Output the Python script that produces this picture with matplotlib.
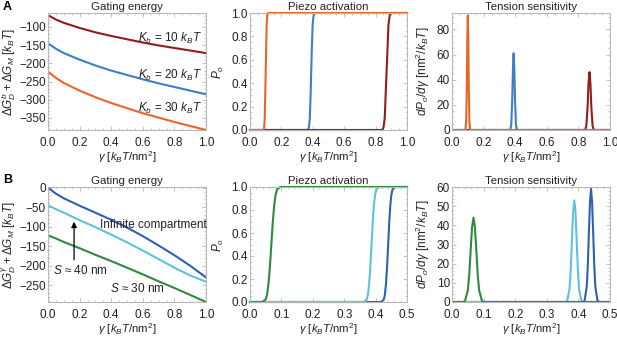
import numpy as np
import matplotlib
matplotlib.use("Agg")
import matplotlib.pyplot as plt
from matplotlib.ticker import MultipleLocator, FormatStrFormatter

plt.rcParams['font.family'] = ['Liberation Sans', 'DejaVu Sans']
plt.rcParams['mathtext.fontset'] = 'custom'
plt.rcParams['mathtext.rm'] = 'Liberation Sans'
plt.rcParams['mathtext.it'] = 'Liberation Sans:italic'
plt.rcParams['mathtext.bf'] = 'Liberation Sans:bold'

# ---------- datos ----------
# Panel A: energía de gating vs tensión
gam_a = [0, 0.05, 0.1, 0.2, 0.3, 0.4, 0.5, 0.6, 0.7, 0.8, 0.9, 1.0]
energy_k10 = [-68, -80, -89, -103, -115, -125, -134, -143, -151, -158, -165, -172]
energy_k20 = [-145, -160, -172, -190, -206, -220, -232, -244, -255, -265, -275, -285]
energy_k30 = [-223, -240, -254, -275, -293, -309, -323, -337, -349, -361, -372, -383]

# Panel A: activación (Po) y sensibilidad (dPo/dgamma)
gam_k30 = [0, 0.085, 0.090, 0.094, 0.097, 0.100, 0.103, 0.106, 0.110, 0.115, 1.0]
po_k30 = [0, 0, 0.02, 0.1, 0.3, 0.5, 0.7, 0.9, 0.98, 1, 1]
dpo_k30 = [0, 0, 7, 37, 73, 91, 73, 37, 7, 0, 0]

gam_k20 = [0, 0.368, 0.375, 0.381, 0.386, 0.390, 0.394, 0.399, 0.405, 0.412, 1.0]
po_k20 = [0, 0, 0.02, 0.1, 0.3, 0.5, 0.7, 0.9, 0.98, 1, 1]
dpo_k20 = [0, 0, 4, 23, 50, 61, 50, 23, 4, 0, 0]

gam_k10 = [0, 0.842, 0.850, 0.858, 0.864, 0.870, 0.876, 0.882, 0.890, 0.898, 1.0]
po_k10 = [0, 0, 0.02, 0.1, 0.3, 0.5, 0.7, 0.9, 0.98, 1, 1]
dpo_k10 = [0, 0, 3, 18, 37, 46, 37, 18, 3, 0, 0]

# Panel B: energía de gating vs tensión
gam_b = [0, 0.05, 0.1, 0.2, 0.3, 0.4, 0.5, 0.6, 0.7, 0.8, 0.9, 1.0]
energy_inf = [0, -15, -27, -46, -64, -82, -102, -124, -148, -173, -200, -230]
energy_s40 = [-45, -55, -64, -83, -101, -120, -140, -161, -183, -205, -225, -241]
energy_s30 = [-122, -130, -139, -155, -172, -188, -205, -222, -240, -257, -275, -293]

# Panel B: activación y sensibilidad
gam_s30 = [0, 0.035, 0.041, 0.050, 0.0545, 0.059, 0.0635, 0.068, 0.0725, 0.077, 0.0815, 0.086, 0.095, 0.101, 0.5]
po_s30 = [0, 0, 0.003, 0.023, 0.067, 0.16, 0.31, 0.5, 0.69, 0.84, 0.93, 0.977, 0.998, 1, 1]
dpo_s30 = [0, 0, 0.5, 6, 14, 27, 39, 44, 39, 27, 14, 6, 0.5, 0, 0]

gam_s40 = [0, 0.360, 0.3645, 0.372, 0.3758, 0.3795, 0.3833, 0.387, 0.3908, 0.3945, 0.3983, 0.402, 0.4095, 0.415, 0.5]
po_s40 = [0, 0, 0.003, 0.023, 0.067, 0.16, 0.31, 0.5, 0.69, 0.84, 0.93, 0.977, 0.998, 1, 1]
dpo_s40 = [0, 0, 0.6, 7, 17, 32, 47, 53, 47, 32, 17, 7, 0.6, 0, 0]

gam_inf = [0, 0.415, 0.4196, 0.4264, 0.4298, 0.4332, 0.4366, 0.440, 0.4434, 0.4468, 0.4502, 0.4536, 0.4604, 0.466, 0.5]
po_inf = [0, 0, 0.003, 0.023, 0.067, 0.16, 0.31, 0.5, 0.69, 0.84, 0.93, 0.977, 0.998, 1, 1]
dpo_inf = [0, 0, 0.7, 8, 19, 36, 52, 59, 52, 36, 19, 8, 0.7, 0, 0]

# Colores
c_red = '#951c1e'
c_blue = '#3d7fc6'
c_orange = '#ea6428'
c_dblue = '#3060ae'
c_lblue = '#5ec3d8'
c_green = '#2f8a3f'

LW = 1.5
frame_col = '#b8b8b8'
txt_col = '#222222'
FS = 8.5

fig = plt.figure(figsize=(6.17, 3.38), dpi=100)
W, H = 617, 338


def add_ax(left, top, right, bottom):
    return fig.add_axes([left / W, 1 - bottom / H, (right - left) / W, (bottom - top) / H])


def style(ax, title):
    for s in ax.spines.values():
        s.set_color(frame_col)
        s.set_linewidth(0.8)
    ax.tick_params(which='both', direction='in', color=frame_col, labelsize=FS,
                   labelcolor=txt_col, top=True, right=True)
    ax.tick_params(axis='x', pad=4.7)
    ax.tick_params(axis='y', pad=1.5)
    ax.tick_params(which='major', length=3, width=0.6)
    ax.tick_params(which='minor', length=1.6, width=0.5)
    ax.set_title(title, fontsize=8.2, color=txt_col, pad=2)
    ax.set_xlabel(r'$\gamma\ [k_B T/\mathrm{nm}^2]$', fontsize=8.2, color=txt_col, labelpad=0.5)


cols_x = [(48, 206), (250, 407), (452, 610)]
row_top = (13, 130)
row_bot = (187, 302)

# ---------- fila A ----------
ax1 = add_ax(cols_x[0][0], row_top[0], cols_x[0][1], row_top[1])
ax1.plot(gam_a, energy_k10, color=c_red, lw=LW)
ax1.plot(gam_a, energy_k20, color=c_blue, lw=LW)
ax1.plot(gam_a, energy_k30, color=c_orange, lw=LW)
ax1.set_xlim(0, 1)
ax1.set_ylim(-383, -62)
ax1.yaxis.set_major_locator(MultipleLocator(50))
ax1.yaxis.set_minor_locator(MultipleLocator(10))
ax1.xaxis.set_major_locator(MultipleLocator(0.2))
ax1.xaxis.set_minor_locator(MultipleLocator(0.05))
ax1.xaxis.set_major_formatter(FormatStrFormatter('%.1f'))
style(ax1, 'Gating energy')
ax1.set_ylabel(r'$\Delta G_D^b + \Delta G_M\ [k_B T]$', fontsize=FS, color=txt_col, labelpad=1)
ax1.text(0.57, -133, r'$K_b$ = 10 $k_B T$', fontsize=FS, color=txt_col, va='center')
ax1.text(0.57, -232, r'$K_b$ = 20 $k_B T$', fontsize=FS, color=txt_col, va='center')
ax1.text(0.57, -324, r'$K_b$ = 30 $k_B T$', fontsize=FS, color=txt_col, va='center')

ax2 = add_ax(cols_x[1][0], row_top[0], cols_x[1][1], row_top[1])
ax2.plot(gam_k20, po_k20, color=c_blue, lw=LW, clip_on=False)
ax2.plot(gam_k10, po_k10, color=c_red, lw=LW, clip_on=False)
ax2.plot(gam_k30, po_k30, color=c_orange, lw=LW, clip_on=False)
ax2.set_xlim(0, 1)
ax2.set_ylim(0, 1)
ax2.xaxis.set_major_locator(MultipleLocator(0.2))
ax2.xaxis.set_minor_locator(MultipleLocator(0.05))
ax2.yaxis.set_major_locator(MultipleLocator(0.2))
ax2.yaxis.set_minor_locator(MultipleLocator(0.05))
ax2.xaxis.set_major_formatter(FormatStrFormatter('%.1f'))
ax2.yaxis.set_major_formatter(FormatStrFormatter('%.1f'))
style(ax2, 'Piezo activation')
ax2.set_ylabel(r'$P_o$', fontsize=FS, color=txt_col, labelpad=4)

ax3 = add_ax(cols_x[2][0], row_top[0], cols_x[2][1], row_top[1])
ax3.plot(gam_k20, dpo_k20, color=c_blue, lw=LW)
ax3.plot(gam_k10, dpo_k10, color=c_red, lw=LW)
ax3.plot(gam_k30, dpo_k30, color=c_orange, lw=LW)
ax3.set_xlim(0, 1)
ax3.set_ylim(0, 93)
ax3.xaxis.set_major_locator(MultipleLocator(0.2))
ax3.xaxis.set_minor_locator(MultipleLocator(0.05))
ax3.yaxis.set_major_locator(MultipleLocator(20))
ax3.yaxis.set_minor_locator(MultipleLocator(5))
ax3.xaxis.set_major_formatter(FormatStrFormatter('%.1f'))
style(ax3, 'Tension sensitivity')
ax3.set_ylabel(r'$dP_o/d\gamma\ [\mathrm{nm}^2/k_B T]$', fontsize=FS, color=txt_col, labelpad=3)

# ---------- fila B ----------
ax4 = add_ax(cols_x[0][0], row_bot[0], cols_x[0][1], row_bot[1])
ax4.plot(gam_b, energy_inf, color=c_dblue, lw=LW)
ax4.plot(gam_b, energy_s40, color=c_lblue, lw=LW)
ax4.plot(gam_b, energy_s30, color=c_green, lw=LW)
ax4.set_xlim(0, 1)
ax4.set_ylim(-293, 2)
ax4.yaxis.set_major_locator(MultipleLocator(50))
ax4.yaxis.set_minor_locator(MultipleLocator(10))
ax4.xaxis.set_major_locator(MultipleLocator(0.2))
ax4.xaxis.set_minor_locator(MultipleLocator(0.05))
ax4.xaxis.set_major_formatter(FormatStrFormatter('%.1f'))
style(ax4, 'Gating energy')
ax4.set_ylabel(r'$\Delta G_D^\gamma + \Delta G_M\ [k_B T]$', fontsize=FS, color=txt_col, labelpad=1)
ax4.annotate('', xy=(0.165, -80), xytext=(0.165, -192),
             arrowprops=dict(arrowstyle='-|>', color='black', lw=0.9, mutation_scale=8))
ax4.text(0.03, -213, r'$S$ ≈ 40 nm', fontsize=FS, color=txt_col, va='center')
ax4.text(0.39, -259, r'$S$ ≈ 30 nm', fontsize=FS, color=txt_col, va='center')
ax4.text(0.33, -96, 'Infinite compartment', fontsize=FS, color=txt_col, va='center')

ax5 = add_ax(cols_x[1][0], row_bot[0], cols_x[1][1], row_bot[1])
ax5.plot(gam_inf, po_inf, color=c_dblue, lw=LW, clip_on=False)
ax5.plot(gam_s40, po_s40, color=c_lblue, lw=LW, clip_on=False)
ax5.plot(gam_s30, po_s30, color=c_green, lw=LW, clip_on=False)
ax5.set_xlim(0, 0.5)
ax5.set_ylim(0, 1)
ax5.xaxis.set_major_locator(MultipleLocator(0.1))
ax5.xaxis.set_minor_locator(MultipleLocator(0.02))
ax5.yaxis.set_major_locator(MultipleLocator(0.2))
ax5.yaxis.set_minor_locator(MultipleLocator(0.05))
ax5.xaxis.set_major_formatter(FormatStrFormatter('%.1f'))
ax5.yaxis.set_major_formatter(FormatStrFormatter('%.1f'))
style(ax5, 'Piezo activation')
ax5.set_ylabel(r'$P_o$', fontsize=FS, color=txt_col, labelpad=4)

ax6 = add_ax(cols_x[2][0], row_bot[0], cols_x[2][1], row_bot[1])
ax6.plot(gam_inf, dpo_inf, color=c_dblue, lw=LW)
ax6.plot(gam_s40, dpo_s40, color=c_lblue, lw=LW)
ax6.plot(gam_s30, dpo_s30, color=c_green, lw=LW)
ax6.set_xlim(0, 0.5)
ax6.set_ylim(0, 60)
ax6.xaxis.set_major_locator(MultipleLocator(0.1))
ax6.xaxis.set_minor_locator(MultipleLocator(0.02))
ax6.yaxis.set_major_locator(MultipleLocator(10))
ax6.yaxis.set_minor_locator(MultipleLocator(2))
ax6.xaxis.set_major_formatter(FormatStrFormatter('%.1f'))
style(ax6, 'Tension sensitivity')
ax6.set_ylabel(r'$dP_o/d\gamma\ [\mathrm{nm}^2/k_B T]$', fontsize=FS, color=txt_col, labelpad=3)

fig.text(3 / W, 1 - 7 / H, 'A', fontsize=9, fontweight='bold', va='center')
fig.text(3 / W, 1 - 180 / H, 'B', fontsize=9, fontweight='bold', va='center')

fig.savefig('out.png', dpi=100)
